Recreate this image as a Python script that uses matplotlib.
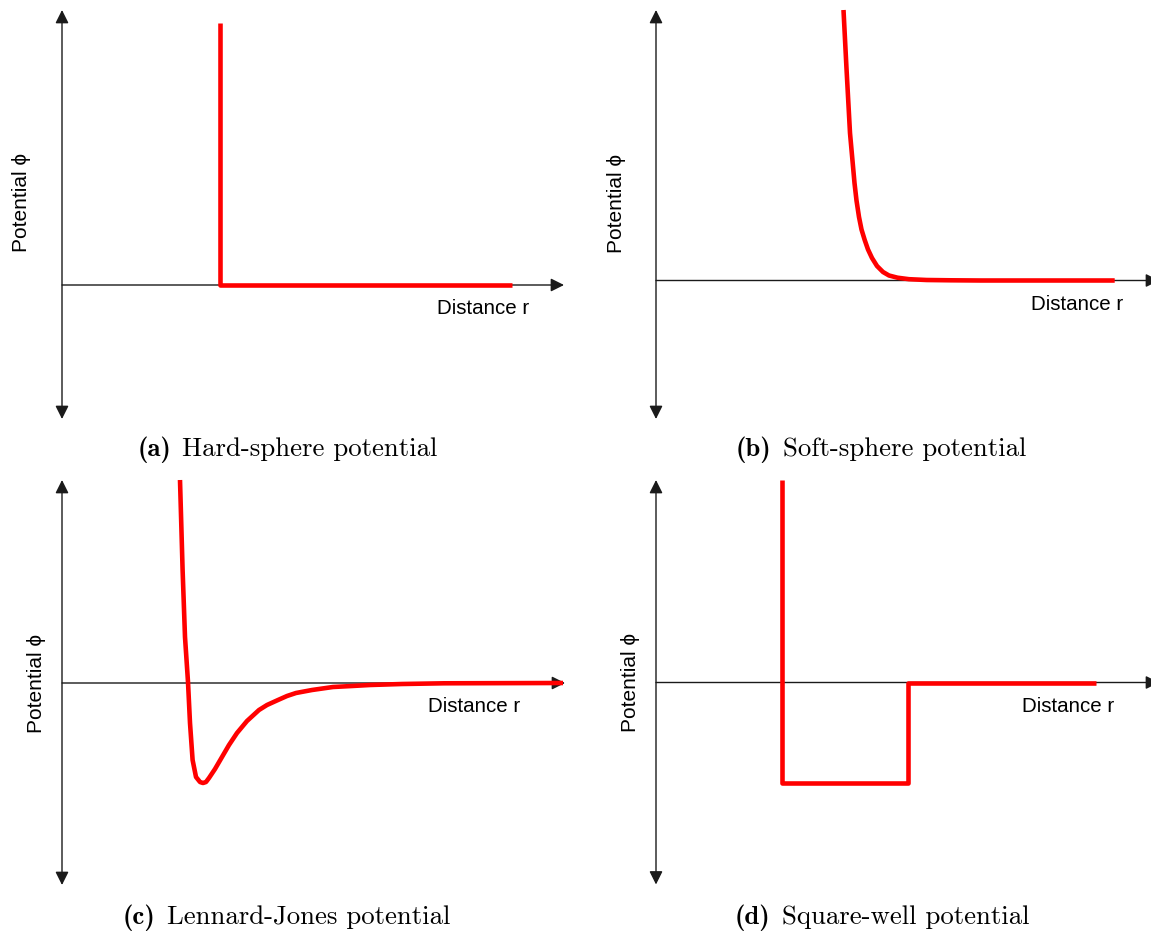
import matplotlib
matplotlib.use('Agg')
import matplotlib.pyplot as plt

W, H = 1151, 935          # figure size in pixels (dpi 100)
SCALE = 100.              # pixels per data unit, both directions

########
# DATA #
########

# (a) hard sphere: infinite wall at r = sigma, zero beyond
hs_r   = [1.58, 1.58, 4.50]
hs_phi = [2.62, 0.00, 0.00]

# (b) soft sphere: steep repulsive decay
ss_r   = [1.875, 1.904, 1.94, 1.985, 2.005, 2.03, 2.055, 2.087, 2.12, 2.16,
          2.21, 2.27, 2.33, 2.415, 2.53, 2.707, 2.95, 3.25, 4.587]
ss_phi = [2.705, 2.138, 1.475, 0.975, 0.80, 0.635, 0.51, 0.405, 0.31, 0.225,
          0.145, 0.085, 0.05, 0.028, 0.013, 0.005, 0.002, 0.0, 0.0]

# (c) Lennard-Jones: repulsive wall, well, long attractive tail
lj_r   = [1.18, 1.206, 1.23, 1.26, 1.28, 1.306, 1.34, 1.38, 1.41, 1.44, 1.47,
          1.53, 1.60, 1.67, 1.75, 1.85, 1.97, 2.05, 2.16, 2.25, 2.34, 2.5,
          2.71, 2.9, 3.08, 3.4, 3.82, 5.01]
lj_phi = [2.03, 1.13, 0.46, 0.01, -0.40, -0.77, -0.94, -0.99, -1.00, -0.99, -0.95,
          -0.86, -0.74, -0.62, -0.50, -0.38, -0.27, -0.22, -0.17, -0.13, -0.10, -0.07,
          -0.04, -0.03, -0.02, -0.01, -0.003, 0.0]

# (d) square well
sw_r   = [1.255, 1.255, 2.517, 2.517, 4.40]
sw_phi = [2.025, -1.005, -1.005, 0.0, 0.0]

captions = ['(a)', '(b)', '(c)', '(d)']
caption_text = ['Hard-sphere potential', 'Soft-sphere potential',
                'Lennard-Jones potential', 'Square-well potential']

# origin of each panel in figure pixels (x from left, y from top)
origins = [(62, 285), (656, 280.5), (62, 683), (656, 682.5)]
# extent of the axis arrows: (x end, y bottom, y top)
extents = [(5.02, -1.34, 2.75), (5.03, -1.385, 2.705),
           (5.03, -2.02, 2.03), (5.03, -2.02, 2.025)]
# label offsets in data units
ylab_pos = [(-0.40, 0.83), (-0.40, 0.775), (-0.25, 0.0), (-0.25, 0.0)]
xlab_pos = [(4.215, -0.24), (4.215, -0.235), (4.125, -0.24), (4.125, -0.245)]
cap_pos  = [(2.255, -1.71), (2.25, -1.755), (2.245, -2.41), (2.26, -2.415)]

curves = [(hs_r, hs_phi), (ss_r, ss_phi), (lj_r, lj_phi), (sw_r, sw_phi)]

sans = ['Liberation Sans', 'DejaVu Sans']
CAP_SIZE = 19.3
CAP_GAP = 11.             # pixels between "(a)" and the caption text

x0, x1, y0, y1 = -0.7, 5.2, -2.6, 2.9

fig = plt.figure(figsize=(W / 100., H / 100.), dpi=100)
renderer = fig.canvas.get_renderer()

for i in range(4):
    ox, oy = origins[i]
    left = (ox + x0 * SCALE) / W
    bottom = 1 - (oy - y0 * SCALE) / H
    ax = fig.add_axes([left, bottom, (x1 - x0) * SCALE / W, (y1 - y0) * SCALE / H])
    ax.set_xlim(x0, x1)
    ax.set_ylim(y0, y1)
    ax.axis('off')

    xe, yb, yt = extents[i]
    # axes with arrow heads
    ax.annotate('', xy=(xe, 0), xytext=(0, 0),
                arrowprops=dict(arrowstyle='-|>,head_length=0.4,head_width=0.2',
                                mutation_scale=20, lw=1.0, color='#1a1a1a',
                                shrinkA=0, shrinkB=0),
                annotation_clip=False)
    ax.annotate('', xy=(0, yt), xytext=(0, yb),
                arrowprops=dict(arrowstyle='<|-|>,head_length=0.4,head_width=0.2',
                                mutation_scale=20, lw=1.0, color='#1a1a1a',
                                shrinkA=0, shrinkB=0),
                annotation_clip=False)

    r, phi = curves[i]
    ax.plot(r, phi, color='#ff0000', lw=3.3, solid_joinstyle='round',
            solid_capstyle='butt', clip_on=False, zorder=5)

    ax.text(ylab_pos[i][0], ylab_pos[i][1], 'Potential \u03d5', rotation=90,
            ha='center', va='center', fontsize=15, family=sans)
    ax.text(xlab_pos[i][0], xlab_pos[i][1], 'Distance r',
            ha='center', va='center', fontsize=14.8, family=sans)

    # sub-caption: bold tag + roman text, centred as one line
    cx, cy = cap_pos[i]
    tag = ax.text(cx, cy, captions[i], ha='left', va='baseline',
                  fontsize=CAP_SIZE, family='cmb10')
    body = ax.text(cx, cy, caption_text[i], ha='left', va='baseline',
                   fontsize=CAP_SIZE, family='cmr10')
    w_tag = tag.get_window_extent(renderer).width
    w_body = body.get_window_extent(renderer).width
    px, py = ax.transData.transform((cx, cy))
    start = px - (w_tag + CAP_GAP + w_body) / 2.
    inv = ax.transData.inverted()
    tag.set_position(inv.transform((start, py)))
    body.set_position(inv.transform((start + w_tag + CAP_GAP, py)))

plt.savefig('out.png', dpi=100)
plt.close()
